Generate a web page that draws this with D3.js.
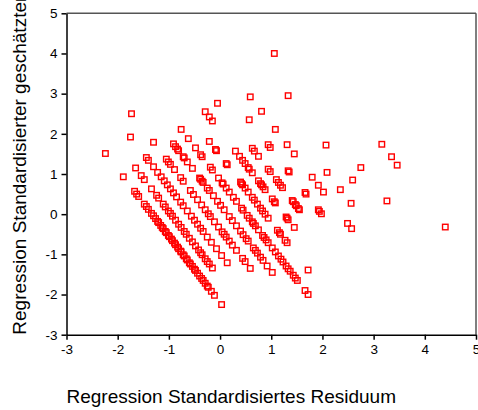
<!DOCTYPE html>
<html>
<head>
<meta charset="utf-8">
<script src="https://cdn.jsdelivr.net/npm/d3@7"></script>
<style>
  body { margin: 0; background: #fff; }
  svg { display: block; font-family: "Liberation Sans", Arial, sans-serif; }
  .tick line, .domain { stroke: #000; }
  .tick text { font-size: 13.5px; fill: #000; }
  .frame { stroke: #555; stroke-width: 1.5; }
  .pt { fill: none; stroke: #ff0000; stroke-width: 1.4; }
  .title { font-size: 19px; fill: #000; }
</style>
</head>
<body>
<svg width="478" height="410"></svg>
<script>
(function (d3) {
  'use strict';

  const xTicks = [-3, -2, -1, 0, 1, 2, 3, 4, 5];
  const yTicks = [-3, -2, -1, 0, 1, 2, 3, 4, 5];
  const xTitle = 'Regression Standardisiertes Residuum';
  const yTitle = 'Regression Standardisierter geschätzter Wert';

  // [residual, predicted], one array per diagonal band
  const band0 = [[-2.24,1.51],[-1.89,0.93],[-1.67,0.57],[-1.63,0.50],[-1.59,0.44],[-1.48,0.25],[-1.44,0.19],
    [-1.40,0.12],[-1.34,0.02],[-1.30,-0.04],[-1.26,-0.11],[-1.22,-0.18],[-1.20,-0.21],[-1.16,-0.28],
    [-1.13,-0.33],[-1.11,-0.36],[-1.07,-0.43],[-1.05,-0.46],[-1.01,-0.53],[-0.99,-0.56],[-0.95,-0.62],
    [-0.93,-0.66],[-0.89,-0.72],[-0.87,-0.76],[-0.83,-0.82],[-0.81,-0.86],[-0.77,-0.92],[-0.76,-0.94],
    [-0.72,-1.01],[-0.70,-1.04],[-0.66,-1.11],[-0.64,-1.14],[-0.60,-1.21],[-0.58,-1.24],[-0.54,-1.30],
    [-0.50,-1.37],[-0.48,-1.40],[-0.44,-1.47],[-0.40,-1.54],[-0.36,-1.60],[-0.33,-1.65],[-0.29,-1.72],
    [-0.25,-1.79],[-0.23,-1.82],[-0.17,-1.92],[-0.11,-2.02],[0.03,-2.25]];
  const band1 = [[-1.65,1.15],[-1.54,0.96],[-1.48,0.86],[-1.34,0.63],[-1.24,0.47],[-1.20,0.40],[-1.11,0.25],
    [-1.07,0.18],[-1.01,0.08],[-0.97,0.02],[-0.93,-0.05],[-0.87,-0.15],[-0.81,-0.25],[-0.76,-0.33],
    [-0.70,-0.43],[-0.66,-0.50],[-0.60,-0.60],[-0.54,-0.69],[-0.48,-0.79],[-0.42,-0.89],[-0.38,-0.96],
    [-0.35,-1.01],[-0.29,-1.11],[-0.25,-1.18],[-0.21,-1.24],[-0.15,-1.34]];
  const band2 = [[-1.75,1.92],[-1.44,1.41],[-1.40,1.34],[-1.30,1.18],[-1.22,1.04],[-1.15,0.93],[-1.09,0.83],
    [-1.03,0.73],[-0.97,0.63],[-0.91,0.53],[-0.85,0.43],[-0.77,0.30],[-0.72,0.21],[-0.64,0.08],
    [-0.56,-0.05],[-0.50,-0.15],[-0.44,-0.25],[-0.38,-0.35],[-0.33,-0.43],[-0.25,-0.57],[-0.17,-0.70],
    [-0.07,-0.86],[0.03,-1.03],[0.14,-1.21]];
  const band3 = [[-1.73,2.50],[-1.30,1.79],[-1.05,1.37],[-1.01,1.30],[-0.97,1.24],[-0.89,1.11],[-0.77,0.91],
    [-0.72,0.82],[-0.58,0.59],[-0.52,0.49],[-0.44,0.36],[-0.36,0.23],[-0.29,0.11],[-0.23,0.01],
    [-0.19,-0.06],[-0.11,-0.19],[-0.03,-0.32],[0.04,-0.44],[0.08,-0.50],[0.12,-0.57],[0.18,-0.67],
    [0.24,-0.77],[0.32,-0.90],[0.44,-1.10],[0.49,-1.18],[0.59,-1.35]];
  const band4 = [[-0.91,1.75],[-0.87,1.68],[-0.83,1.62],[-0.81,1.58],[-0.72,1.43],[-0.70,1.40],[-0.64,1.30],
    [-0.54,1.14],[-0.40,0.90],[-0.38,0.87],[-0.35,0.82],[-0.33,0.79],[-0.25,0.65],[-0.21,0.59],
    [-0.13,0.46],[-0.05,0.32],[0.01,0.22],[0.08,0.11],[0.18,-0.06],[0.24,-0.16],[0.32,-0.29],
    [0.40,-0.42],[0.45,-0.51],[0.51,-0.61],[0.55,-0.67],[0.65,-0.84],[0.69,-0.90],[0.73,-0.97],
    [0.79,-1.07],[0.84,-1.15],[0.92,-1.29],[1.02,-1.45]];
  const band5 = [[-0.76,2.11],[-0.62,1.88],[-0.48,1.65],[-0.38,1.48],[-0.35,1.43],[-0.19,1.17],[-0.15,1.10],
    [-0.03,0.90],[0.04,0.78],[0.06,0.75],[0.12,0.65],[0.18,0.55],[0.26,0.42],[0.32,0.32],[0.42,0.15],
    [0.45,0.10],[0.53,-0.03],[0.57,-0.10],[0.63,-0.19],[0.65,-0.23],[0.69,-0.29],[0.75,-0.39],
    [0.83,-0.53],[0.86,-0.58],[0.90,-0.64],[0.94,-0.71],[1.02,-0.84],[1.08,-0.94],[1.14,-1.04],
    [1.19,-1.12],[1.23,-1.19],[1.29,-1.29],[1.33,-1.36],[1.37,-1.42],[1.43,-1.52],[1.47,-1.59],
    [1.51,-1.65],[1.66,-1.90],[1.72,-2.00]];
  const band6 = [[-0.21,1.81],[-0.09,1.61],[-0.07,1.58],[0.12,1.26],[0.14,1.23],[0.40,0.80],[0.42,0.76],
    [0.44,0.73],[0.49,0.65],[0.55,0.55],[0.63,0.42],[0.67,0.35],[0.73,0.25],[0.79,0.15],[0.83,0.08],
    [0.88,0.00],[0.94,-0.10],[1.12,-0.40],[1.16,-0.46],[1.18,-0.50],[1.27,-0.65],[1.31,-0.71],[1.72,-1.39]];
  const band7 = [[-0.29,2.55],[-0.21,2.42],[-0.15,2.32],[0.30,1.57],[0.38,1.44],[0.44,1.34],[0.49,1.26],
    [0.55,1.16],[0.57,1.12],[0.63,1.03],[0.75,0.83],[0.79,0.76],[0.81,0.73],[0.84,0.68],[0.88,0.61],
    [1.02,0.38],[1.06,0.31],[1.08,0.28],[1.29,-0.07],[1.31,-0.10],[1.33,-0.14],[1.45,-0.33]];
  const band8 = [[-0.05,2.76],[0.63,1.64],[0.67,1.57],[0.75,1.44],[0.94,1.12],[0.98,1.06],[1.10,0.86],
    [1.14,0.79],[1.18,0.72],[1.22,0.66],[1.41,0.34],[1.43,0.31],[1.47,0.24],[1.49,0.21],[1.53,0.14],[1.55,0.11]];
  const band9 = [[0.57,2.35],[0.94,1.73],[0.98,1.66],[1.33,1.08],[1.35,1.05],[1.66,0.54],[1.68,0.50],
    [1.92,0.11],[1.94,0.07],[1.98,0.01]];
  const band10 = [[0.59,2.92],[0.81,2.56],[1.08,2.11],[1.31,1.73],[1.45,1.50],[1.80,0.92],[1.92,0.72],
    [2.02,0.55],[2.49,-0.23],[2.57,-0.36]];
  const outliers = [[2.09,1.04],[2.35,0.61],[2.56,0.27],[1.33,2.95],[2.07,1.72],[2.59,0.85],
    [1.06,4.00],[2.75,1.16],[3.26,0.33],[3.16,1.74],[3.35,1.43],[3.46,1.22],[4.40,-0.32]];

  const points = [].concat(band0, band1, band2, band3, band4, band5, band6,
    band7, band8, band9, band10, outliers);

  const left = 66.5, right = 476, top = 13.3, bottom = 334.7;
  const svg = d3.select('svg');

  const x = d3.scaleLinear().domain([-3, 5]).range([left, right]);
  const y = d3.scaleLinear().domain([-3, 5]).range([bottom, top]);

  // grey frame on top and right
  svg.append('line').attr('class', 'frame')
    .attr('x1', left).attr('x2', right).attr('y1', top).attr('y2', top);
  svg.append('line').attr('class', 'frame')
    .attr('x1', right).attr('x2', right).attr('y1', top).attr('y2', bottom);

  svg.append('g')
    .attr('transform', `translate(${left},0)`)
    .call(d3.axisLeft(y).tickValues(yTicks).tickSize(5).tickSizeOuter(0)
      .tickPadding(4).tickFormat(d => String(d)))
    .call(g => g.selectAll('path, line').attr('stroke-width', 1.5));

  svg.append('g')
    .attr('transform', `translate(0,${bottom})`)
    .call(d3.axisBottom(x).tickValues(xTicks).tickSize(5).tickSizeOuter(0)
      .tickPadding(5).tickFormat(d => String(d)))
    .call(g => g.selectAll('path, line').attr('stroke-width', 1.5));

  svg.selectAll('.tick text').attr('font-family', null).attr('font-size', null);

  const s = 5.5;
  svg.append('g').selectAll('rect').data(points)
    .enter().append('rect')
    .attr('class', 'pt')
    .attr('x', d => x(d[0]) - s / 2)
    .attr('y', d => y(d[1]) - s / 2)
    .attr('width', s)
    .attr('height', s);

  svg.append('text')
    .attr('class', 'title')
    .attr('x', left)
    .attr('y', 403)
    .text(xTitle);

  svg.append('text')
    .attr('class', 'title')
    .attr('transform', `translate(26,${bottom}) rotate(-90)`)
    .text(yTitle);

}(d3));
</script>
</body>
</html>
